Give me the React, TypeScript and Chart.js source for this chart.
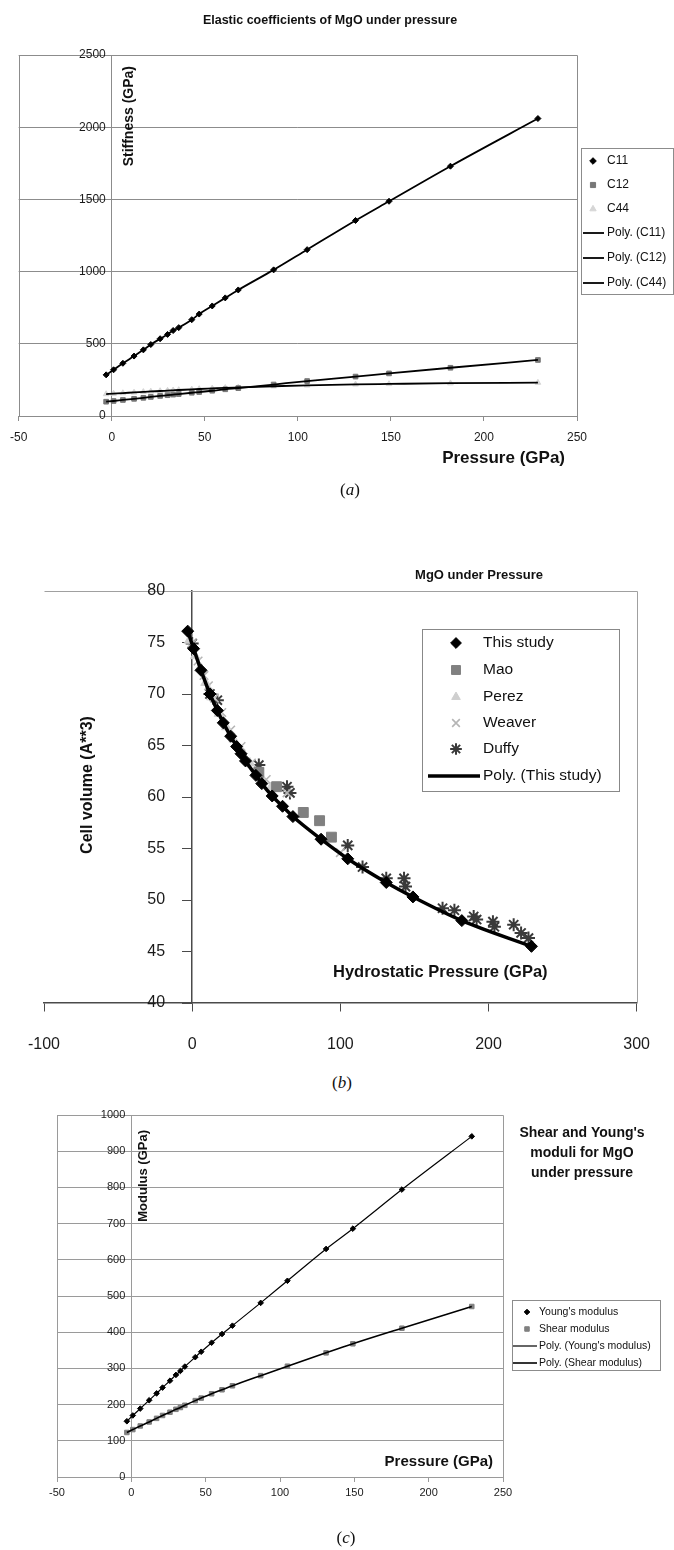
import React, { useEffect, useRef } from 'react';
import { Chart, registerables } from 'chart.js';
import * as helpers from 'chart.js/helpers';

Chart.register(...registerables);

const FAMILY = '"Liberation Sans", Arial, Helvetica, sans-serif';
Chart.defaults.font.family = FAMILY;
Chart.defaults.color = '#1a1a1a';

// ---------- shared pressure grid of the calculations (GPa) ----------
const pressure = [-3, 1, 6, 12, 17, 21, 26, 30, 33, 36, 43, 47, 54, 61, 68, 87, 105, 131, 149, 182, 229];

// ---------- (a) elastic coefficients (GPa) ----------
const c11 = [285, 320, 365, 415, 458, 495, 535, 565, 592, 612, 667, 706, 762, 818, 873, 1012, 1152, 1354, 1487, 1730, 2060];
const c12 = [99, 104, 111, 119, 126, 132, 139, 144, 148, 152, 161, 166, 175, 185, 193, 218, 242, 273, 295, 334, 388];
const c44 = [152, 155, 159, 163, 167, 170, 173, 176, 178, 180, 184, 187, 191, 195, 198, 206, 212, 219, 222, 227, 231];
const aXTicks = [-50, 250, 50];
const aYTicks = [0, 2500, 500];

// ---------- (b) cell volume (A**3) ----------
const volumeThisStudy = [76.1, 74.4, 72.3, 70.0, 68.4, 67.2, 65.9, 64.9, 64.2, 63.5, 62.1, 61.3, 60.1, 59.1, 58.1, 55.9, 54.0, 51.7, 50.3, 48.0, 45.5];
const maoPressure = [45, 57, 75, 86, 94];
const maoVolume = [62.4, 61.0, 58.5, 57.7, 56.1];
const perezPressure = [-2, 2, 5, 9, 13, 18, 23, 28, 33, 39, 46, 53];
const perezVolume = [75.2, 73.7, 72.5, 71.1, 69.7, 68.1, 66.8, 65.6, 64.5, 63.3, 62.0, 60.9];
const weaverPressure = [0, 4, 8, 11, 15, 20, 26, 33, 40, 50, 64, 100];
const weaverVolume = [74.9, 73.2, 71.8, 70.8, 69.6, 68.2, 66.5, 64.9, 63.3, 61.7, 60.4, 54.6];
const duffyPressure = [0, 12, 17, 45, 64, 66, 105, 115, 131, 143, 144, 169, 177, 190, 192, 203, 204, 217, 222, 227];
const duffyVolume = [74.9, 70.0, 69.4, 63.1, 61.0, 60.4, 55.3, 53.2, 52.1, 52.1, 51.3, 49.2, 49.0, 48.4, 48.1, 47.9, 47.4, 47.6, 46.8, 46.3];
const bXTicks = [-100, 300, 100];
const bYTicks = [40, 80, 5];

// ---------- (c) moduli (GPa) ----------
const youngModulus = [154, 170, 189, 212, 231, 247, 266, 282, 293, 305, 331, 346, 371, 395, 418, 481, 542, 630, 686, 794, 941];
const shearModulus = [123, 131, 141, 152, 162, 170, 179, 187, 192, 198, 211, 218, 230, 241, 252, 280, 306, 343, 368, 411, 471];
const cXTicks = [-50, 250, 50];
const cYTicks = [0, 1000, 100];

// ---------- helpers ----------
const pts = (xs: number[], ys: number[]) => xs.map((x, i) => ({ x, y: ys[i] }));
const font = (size: number, bold = false) => `${bold ? 'bold ' : ''}${size}px ${FAMILY}`;

type TextItem = { text: string; x: number; y: number; font: string; align?: CanvasTextAlign; rotate?: number };

function makeTextPlugin(items: TextItem[]) {
  return {
    id: 'texts',
    afterDraw(chart: any) {
      const ctx = chart.ctx as CanvasRenderingContext2D;
      for (const t of items) {
        ctx.save();
        ctx.font = t.font;
        ctx.fillStyle = '#111';
        ctx.textAlign = t.align || 'left';
        ctx.textBaseline = 'middle';
        ctx.translate(t.x, t.y);
        if (t.rotate) ctx.rotate(t.rotate);
        ctx.fillText(t.text, 0, 0);
        ctx.restore();
      }
    },
  };
}

// y tick labels, placed next to the y axis that crosses at x = 0
function makeYLabelPlugin(offset: number, size: number) {
  return {
    id: 'yLabels',
    afterDraw(chart: any) {
      const ctx = chart.ctx as CanvasRenderingContext2D;
      const ys = chart.scales.y;
      const x0 = chart.scales.x.getPixelForValue(0);
      ctx.save();
      ctx.font = font(size);
      ctx.fillStyle = '#1a1a1a';
      ctx.textAlign = 'right';
      ctx.textBaseline = 'middle';
      for (const t of ys.ticks) {
        ctx.fillText(String(t.value), x0 - offset, ys.getPixelForValue(t.value));
      }
      ctx.restore();
    },
  };
}

function makeFramePlugin(color: string, sides = { top: true, right: true, bottom: true, left: true }) {
  return {
    id: 'frame',
    beforeDatasetsDraw(chart: any) {
      const { ctx, chartArea } = chart;
      const L = Math.round(chartArea.left) + 0.5;
      const R = Math.round(chartArea.right) + 0.5;
      const T = Math.round(chartArea.top) + 0.5;
      const B = Math.round(chartArea.bottom) + 0.5;
      ctx.save();
      ctx.strokeStyle = color;
      ctx.lineWidth = 1;
      ctx.beginPath();
      if (sides.top) { ctx.moveTo(L, T); ctx.lineTo(R, T); }
      if (sides.right) { ctx.moveTo(R, T); ctx.lineTo(R, B); }
      if (sides.bottom) { ctx.moveTo(L, B); ctx.lineTo(R, B); }
      if (sides.left) { ctx.moveTo(L, T); ctx.lineTo(L, B); }
      ctx.stroke();
      ctx.restore();
    },
  };
}

type LegendCfg = {
  x: number; y: number; w: number; h: number; rowY: number[];
  markerX: number; textX: number; lineX1: number; lineX2: number;
  font: string; borderColor: string; markerScale?: number;
};

function makeLegendPlugin(cfg: LegendCfg) {
  return {
    id: 'boxLegend',
    afterDraw(chart: any) {
      const ctx = chart.ctx as CanvasRenderingContext2D;
      ctx.save();
      ctx.fillStyle = '#fff';
      ctx.fillRect(cfg.x, cfg.y, cfg.w, cfg.h);
      ctx.strokeStyle = cfg.borderColor;
      ctx.lineWidth = 1;
      ctx.strokeRect(cfg.x + 0.5, cfg.y + 0.5, cfg.w, cfg.h);
      chart.data.datasets.forEach((ds: any, i: number) => {
        const y = cfg.rowY[i];
        if (y === undefined) return;
        if (ds.showLine) {
          ctx.strokeStyle = ds.borderColor;
          ctx.lineWidth = ds.borderWidth;
          ctx.beginPath();
          ctx.moveTo(cfg.lineX1, y);
          ctx.lineTo(cfg.lineX2, y);
          ctx.stroke();
        } else {
          ctx.fillStyle = ds.pointBackgroundColor;
          ctx.strokeStyle = ds.pointBorderColor;
          ctx.lineWidth = ds.pointBorderWidth;
          helpers.drawPoint(ctx, {
            pointStyle: ds.pointStyle,
            rotation: 0,
            radius: ds.pointRadius * (cfg.markerScale || 1),
            borderWidth: ds.pointBorderWidth,
          } as any, cfg.markerX, y);
        }
        ctx.fillStyle = '#111';
        ctx.font = cfg.font;
        ctx.textAlign = 'left';
        ctx.textBaseline = 'middle';
        ctx.fillText(ds.label, cfg.textX, y);
      });
      ctx.restore();
    },
  };
}

function marker(label: string, data: any[], style: string, radius: number, fill: string, stroke: string, bw = 1) {
  return {
    label, data, showLine: false, pointStyle: style, pointRadius: radius,
    pointBackgroundColor: fill, pointBorderColor: stroke, pointBorderWidth: bw,
    pointHoverRadius: radius,
  };
}

function trend(label: string, data: any[], width: number) {
  return {
    label, data, showLine: true, borderColor: '#000', borderWidth: width,
    pointRadius: 0, pointHoverRadius: 0, cubicInterpolationMode: 'monotone', order: -1,
  };
}

function axis(range: number[], pos: any, o: { size: number; pad: number; tl: number; color: string; grid: boolean; labels: boolean; borderW?: number }) {
  return {
    type: 'linear',
    min: range[0], max: range[1], position: pos,
    ticks: {
      display: o.labels, stepSize: range[2], font: { size: o.size }, color: '#1a1a1a', padding: o.pad,
      autoSkip: false, maxRotation: 0, callback: (v: any) => String(v),
    },
    grid: { drawOnChartArea: o.grid, drawTicks: true, tickLength: o.tl, color: o.color, lineWidth: 1 },
    border: { display: true, color: o.color, width: o.borderW || 1 },
  };
}

const baseOptions = (padding: any) => ({
  responsive: false,
  animation: false,
  devicePixelRatio: 1,
  layout: { padding },
  plugins: { legend: { display: false }, tooltip: { enabled: false }, title: { display: false } },
  events: [],
});

// ---------- chart (a) ----------
function configA() {
  return {
    type: 'scatter',
    data: {
      datasets: [
        marker('C11', pts(pressure, c11), 'rectRot', 3, '#000', '#000'),
        marker('C12', pts(pressure, c12), 'rect', 3.3, '#777', '#777'),
        marker('C44', pts(pressure, c44), 'triangle', 3.3, '#d6d6d6', '#d6d6d6'),
        trend('Poly. (C11)', pts(pressure, c11), 1.8),
        trend('Poly. (C12)', pts(pressure, c12), 1.8),
        trend('Poly. (C44)', pts(pressure, c44), 1.8),
      ],
    },
    options: {
      ...baseOptions({ left: 17, top: 55, right: 97, bottom: 84 }),
      scales: {
        x: axis(aXTicks, { y: 0 }, { size: 12, pad: 10, tl: 4, color: '#8c8c8c', grid: false, labels: true }),
        y: axis(aYTicks, { x: 0 }, { size: 12, pad: 4, tl: 4, color: '#8c8c8c', grid: true, labels: false }),
      },
    },
    plugins: [
      makeFramePlugin('#8c8c8c'),
      makeYLabelPlugin(6, 12),
      makeLegendPlugin({
        x: 581, y: 148, w: 92, h: 146, rowY: [161, 185, 209, 233, 258, 283],
        markerX: 593, textX: 607, lineX1: 583, lineX2: 604, font: font(12), borderColor: '#8c8c8c', markerScale: 1.1,
      }),
      makeTextPlugin([
        { text: 'Elastic coefficients of MgO under pressure', x: 330, y: 21, font: font(12.5, true), align: 'center' },
        { text: 'Pressure (GPa)', x: 565, y: 458, font: font(17, true), align: 'right' },
        { text: 'Stiffness (GPa)', x: 129, y: 66, font: font(14, true), align: 'right', rotate: -Math.PI / 2 },
      ]),
    ],
  };
}

// ---------- chart (b) ----------
function configB() {
  return {
    type: 'scatter',
    data: {
      datasets: [
        marker('This study', pts(pressure, volumeThisStudy), 'rectRot', 6, '#000', '#000'),
        marker('Mao', pts(maoPressure, maoVolume), 'rect', 7, '#808080', '#808080'),
        marker('Perez', pts(perezPressure, perezVolume), 'triangle', 5.5, '#cfcfcf', '#cfcfcf'),
        marker('Weaver', pts(weaverPressure, weaverVolume), 'crossRot', 6, '#b5b5b5', '#b5b5b5', 1.6),
        marker('Duffy', pts(duffyPressure, duffyVolume), 'star', 6.5, '#3a3a3a', '#3a3a3a', 2),
        trend('Poly. (This study)', pts(pressure, volumeThisStudy), 3.5),
      ],
    },
    options: {
      ...baseOptions({ left: 44, top: 51, right: 28, bottom: 57 }),
      scales: {
        x: axis(bXTicks, { y: 40 }, { size: 16, pad: 24, tl: 8, color: '#4a4a4a', grid: false, labels: true, borderW: 1.5 }),
        y: axis(bYTicks, { x: 0 }, { size: 16, pad: 17, tl: 9, color: '#4a4a4a', grid: false, labels: false, borderW: 1.5 }),
      },
    },
    plugins: [
      makeFramePlugin('#a0a0a0', { top: true, right: true, bottom: false, left: false }),
      makeYLabelPlugin(27, 16),
      makeLegendPlugin({
        x: 422, y: 89, w: 197, h: 162, rowY: [103, 130, 157, 183, 209, 236],
        markerX: 456, textX: 483, lineX1: 428, lineX2: 480, font: font(15.5), borderColor: '#888',
        markerScale: 0.9,
      }),
      makeTextPlugin([
        { text: 'MgO under Pressure', x: 479, y: 35, font: font(13, true), align: 'center' },
        { text: 'Cell volume (A**3)', x: 88, y: 245, font: font(16, true), align: 'center', rotate: -Math.PI / 2 },
        { text: 'Hydrostatic Pressure (GPa)', x: 333, y: 432, font: font(16.5, true), align: 'left' },
      ]),
    ],
  };
}

// ---------- chart (c) ----------
function configC() {
  return {
    type: 'scatter',
    data: {
      datasets: [
        marker("Young's modulus", pts(pressure, youngModulus), 'rectRot', 2.8, '#000', '#000'),
        marker('Shear modulus', pts(pressure, shearModulus), 'rect', 3.2, '#808080', '#808080'),
        trend("Poly. (Young's modulus)", pts(pressure, youngModulus), 1.2),
        trend('Poly. (Shear modulus)', pts(pressure, shearModulus), 1.6),
      ],
    },
    options: {
      ...baseOptions({ left: 57, top: 25, right: 171, bottom: 73 }),
      scales: {
        x: axis(cXTicks, { y: 0 }, { size: 11, pad: 5, tl: 4, color: '#9a9a9a', grid: false, labels: true }),
        y: axis(cYTicks, { x: 0 }, { size: 11, pad: 3, tl: 3, color: '#9a9a9a', grid: true, labels: false }),
      },
    },
    plugins: [
      makeFramePlugin('#9a9a9a'),
      makeYLabelPlugin(6, 11),
      makeLegendPlugin({
        x: 512, y: 210, w: 148, h: 70, rowY: [222, 239, 256, 273],
        markerX: 527, textX: 539, lineX1: 513, lineX2: 537, font: font(10.5), borderColor: '#8c8c8c',
      }),
      makeTextPlugin([
        { text: "Shear and Young's", x: 582, y: 43, font: font(14, true), align: 'center' },
        { text: 'moduli for MgO', x: 582, y: 63, font: font(14, true), align: 'center' },
        { text: 'under pressure', x: 582, y: 83, font: font(14, true), align: 'center' },
        { text: 'Modulus (GPa)', x: 143, y: 40, font: font(13, true), align: 'right', rotate: -Math.PI / 2 },
        { text: 'Pressure (GPa)', x: 493, y: 372, font: font(15, true), align: 'right' },
      ]),
    ],
  };
}

function ChartCanvas({ make, top, height }: { make: () => any; top: number; height: number }) {
  const ref = useRef<HTMLCanvasElement>(null);
  useEffect(() => {
    const chart = new Chart(ref.current as HTMLCanvasElement, make());
    return () => chart.destroy();
  }, [make]);
  return (
    <canvas
      ref={ref}
      width={674}
      height={height}
      style={{ position: 'absolute', left: 0, top, width: 674, height, display: 'block' }}
    />
  );
}

function Caption({ letter, x, y }: { letter: string; x: number; y: number }) {
  return (
    <div
      style={{
        position: 'absolute', left: x - 40, top: y - 12, width: 80, textAlign: 'center',
        fontFamily: '"Liberation Serif", "Times New Roman", serif', fontSize: 17, lineHeight: '24px', color: '#111',
      }}
    >
      (<i>{letter}</i>)
    </div>
  );
}

export default function App() {
  return (
    <div style={{ position: 'absolute', left: 0, top: 0, width: 674, height: 1550, background: '#fff', overflow: 'hidden' }}>
      <ChartCanvas make={configA} top={0} height={500} />
      <Caption letter="a" x={350} y={490} />
      <ChartCanvas make={configB} top={540} height={520} />
      <Caption letter="b" x={342} y={1083} />
      <ChartCanvas make={configC} top={1090} height={460} />
      <Caption letter="c" x={346} y={1538} />
    </div>
  );
}
